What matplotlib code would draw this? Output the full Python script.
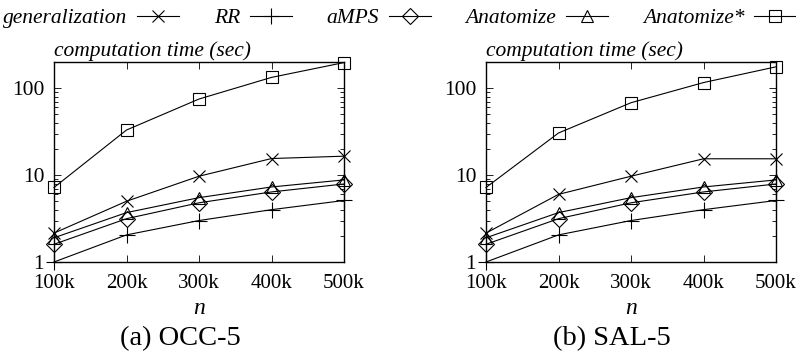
import matplotlib
matplotlib.use("Agg")
import matplotlib.pyplot as plt
from matplotlib.lines import Line2D

plt.rcParams['font.family'] = ['Liberation Serif', 'DejaVu Serif']

# x positions / tick labels
n_labels = ["100k", "200k", "300k", "400k", "500k"]
n_vals = [1, 2, 3, 4, 5]

# (a) OCC-5
occ_generalization = [2.15, 5.0, 9.7, 15.5, 16.5]
occ_rr = [1.0, 2.05, 3.0, 4.0, 5.1]
occ_amps = [1.6, 3.15, 4.8, 6.4, 7.9]
occ_anatomize = [1.9, 3.7, 5.5, 7.3, 8.8]
occ_anatomize_star = [7.2, 33, 75, 133, 197]

# (b) SAL-5
sal_generalization = [2.15, 6.0, 9.7, 15.4, 15.4]
sal_rr = [1.0, 2.05, 3.0, 4.0, 5.1]
sal_amps = [1.6, 3.15, 4.8, 6.4, 7.9]
sal_anatomize = [1.9, 3.7, 5.5, 7.3, 8.8]
sal_anatomize_star = [7.2, 30.5, 68, 116, 176]

series_names = ["generalization", "RR", "aMPS", "Anatomize", "Anatomize*"]
markers = ["x", "+", "D", "^", "s"]
msizes = [9, 11, 8, 8, 8]

fig = plt.figure(figsize=(7.96, 3.55), dpi=100)
W, H = 796, 355


def px_axes(x0, y0, x1, y1):
    return fig.add_axes([x0 / W, (H - y1) / H, (x1 - x0) / W, (y1 - y0) / H])


panels = [
    (px_axes(54, 62, 344, 262), [occ_generalization, occ_rr, occ_amps, occ_anatomize, occ_anatomize_star], "(a) OCC-5", 180),
    (px_axes(486, 62, 776, 262), [sal_generalization, sal_rr, sal_amps, sal_anatomize, sal_anatomize_star], "(b) SAL-5", 612),
]

for ax, data, caption, cx in panels:
    for vals, m, ms in zip(data, markers, msizes):
        ax.plot(n_vals, vals, color='black', lw=0.8, marker=m, ms=ms,
                mfc='none', mec='black', mew=0.8, clip_on=False)
    ax.set_yscale('log')
    ax.set_ylim(1, 200)
    ax.set_xlim(1, 5)
    ax.set_xticks(n_vals)
    ax.set_xticklabels(n_labels)
    ax.set_yticks([1, 10, 100])
    ax.set_yticklabels(["1", "10", "100"])
    ax.tick_params(which='both', direction='in', top=True, right=True,
                   labelsize=15.5, width=0.6)
    ax.tick_params(axis='x', labelsize=15)
    ax.tick_params(which='major', length=5)
    ax.tick_params(which='minor', length=3)
    ax.tick_params(axis='x', pad=9)
    ax.tick_params(axis='y', pad=7)
    for s in ax.spines.values():
        s.set_linewidth(1.0)
    ax.text(0.0, 1.005, "computation time (sec)", transform=ax.transAxes,
            fontsize=15.5, style='italic', ha='left', va='bottom')
    ax.set_xlabel("n", fontsize=17, style='italic', labelpad=3)
    fig.text(cx / W, (H - 339) / H, caption, fontsize=20.5,
             ha='center', va='center')

handles = [Line2D([], [], color='black', lw=0.8, marker=m, ms=ms, mfc='none',
                  mec='black', mew=0.8) for m, ms in zip(markers, msizes)]
leg = fig.legend(handles, series_names, loc='upper center', ncol=5,
                 bbox_to_anchor=(0.502, 1.02), frameon=False, markerfirst=False,
                 handlelength=1.95, columnspacing=1.6, handletextpad=0.47,
                 borderaxespad=0.3, prop={'style': 'italic', 'size': 15.5})

fig.savefig("out.png", dpi=100)
